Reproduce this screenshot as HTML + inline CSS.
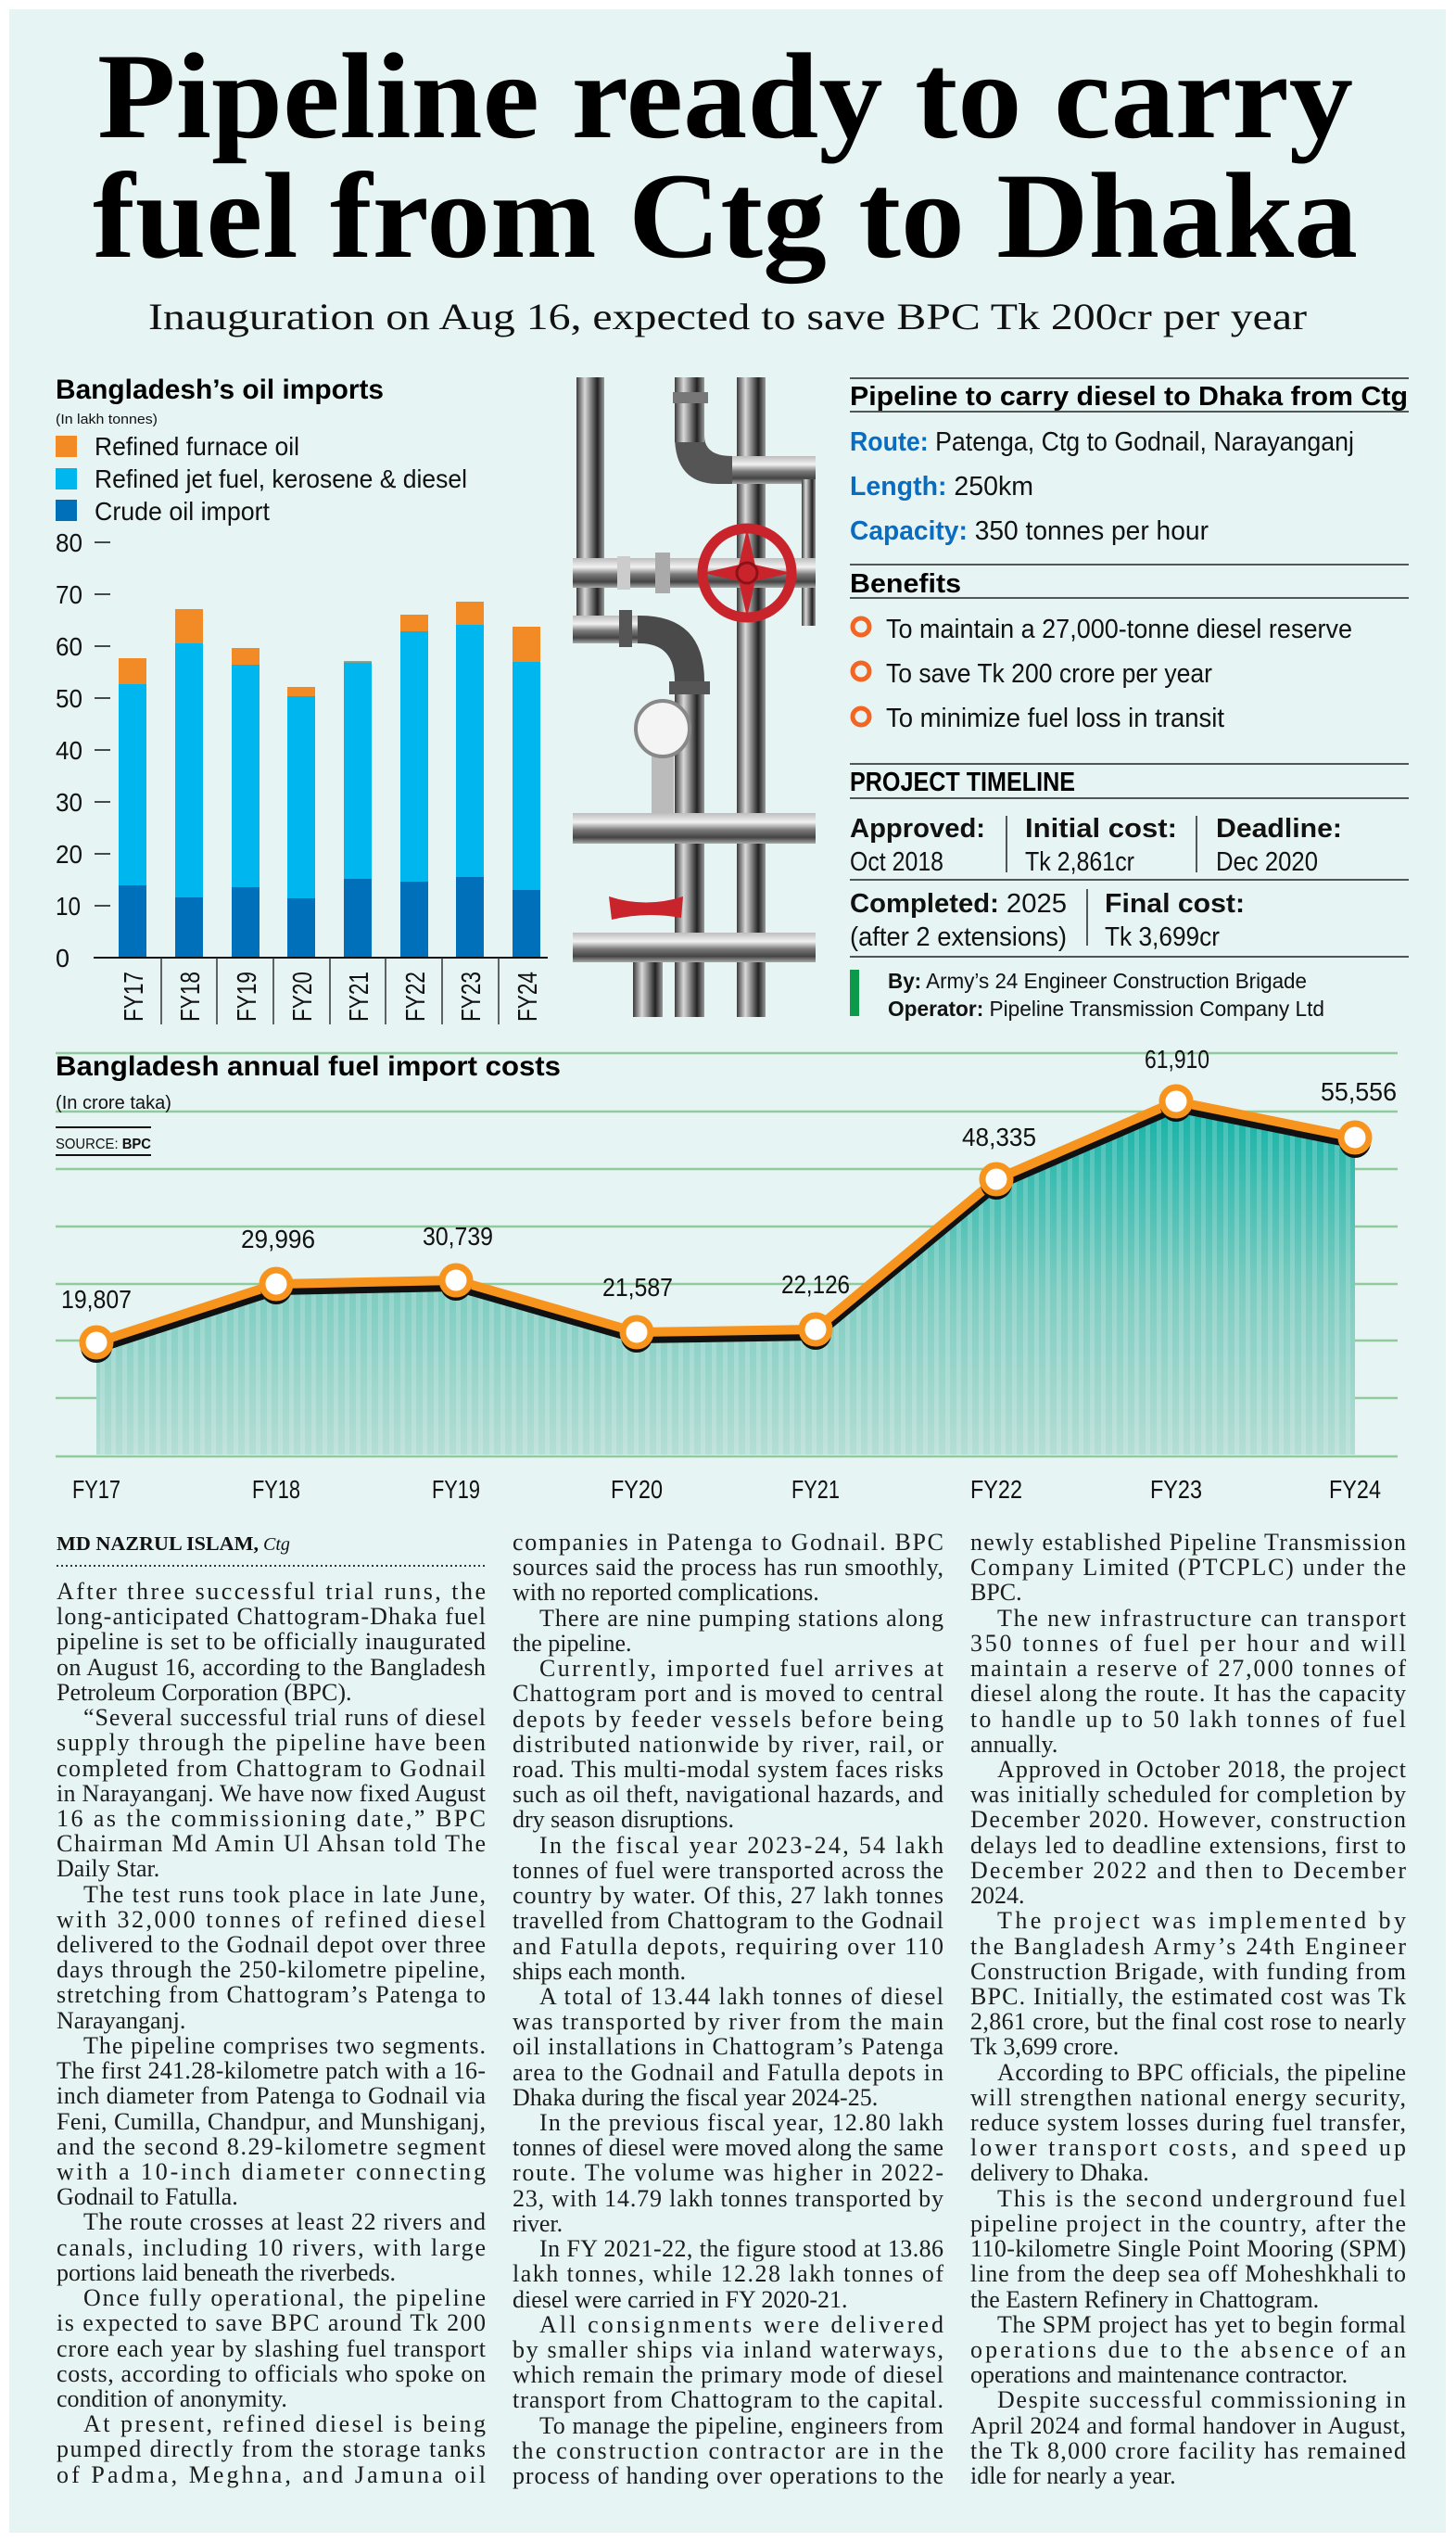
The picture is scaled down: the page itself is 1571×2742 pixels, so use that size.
<!DOCTYPE html>
<html><head><meta charset="utf-8"><style>
html,body{margin:0;padding:0;background:#fff}
svg{display:block}
.b{font-family:"Liberation Serif",serif;font-size:26px;fill:#1c1c1c}
.s{font-family:"Liberation Sans",sans-serif}
.sf{font-family:"Liberation Serif",serif}
</style></head><body>
<svg width="1571" height="2742" viewBox="0 0 1571 2742" xmlns="http://www.w3.org/2000/svg">
<defs>
<linearGradient id="vp" x1="0" x2="1" y1="0" y2="0"><stop offset="0" stop-color="#3a3a3a"/><stop offset=".3" stop-color="#d9d9d9"/><stop offset=".5" stop-color="#8a8a8a"/><stop offset=".75" stop-color="#222"/><stop offset="1" stop-color="#9a9a9a"/></linearGradient>
<linearGradient id="hp" x1="0" x2="0" y1="0" y2="1"><stop offset="0" stop-color="#bdbdbd"/><stop offset=".3" stop-color="#f2f2f2"/><stop offset=".55" stop-color="#7a7a7a"/><stop offset=".8" stop-color="#444"/><stop offset="1" stop-color="#aaa"/></linearGradient>
<linearGradient id="area" gradientUnits="userSpaceOnUse" x1="0" y1="1185" x2="0" y2="1571"><stop offset="0" stop-color="#0fb2a6"/><stop offset=".55" stop-color="#7fcdc2"/><stop offset="1" stop-color="#b4ded5"/></linearGradient>
<pattern id="stripe" width="12" height="10" patternUnits="userSpaceOnUse"><rect width="5" height="10" fill="#ffffff" opacity=".18"/></pattern>
</defs>
<rect width="1571" height="2742" fill="#fff"/>
<rect x="10" y="10" width="1550" height="2722" fill="#e6f4f3"/>

<!-- Headline -->
<text x="105" y="148" textLength="1355" lengthAdjust="spacingAndGlyphs" class="sf" font-size="132" font-weight="bold" fill="#000">Pipeline ready to carry</text>
<text x="100" y="277" textLength="1365" lengthAdjust="spacingAndGlyphs" class="sf" font-size="132" font-weight="bold" fill="#000">fuel from Ctg to Dhaka</text>
<text x="160" y="355" textLength="1250" lengthAdjust="spacingAndGlyphs" class="sf" font-size="40" fill="#111">Inauguration on Aug 16, expected to save BPC Tk 200cr per year</text>

<!-- Bar chart -->
<g class="s">
<text x="60" y="430" textLength="354" lengthAdjust="spacingAndGlyphs" font-size="30" font-weight="bold" fill="#000">Bangladesh’s oil imports</text>
<text x="60" y="457" textLength="110" lengthAdjust="spacingAndGlyphs" font-size="15" fill="#111">(In lakh tonnes)</text>
<rect x="60" y="470" width="23" height="23" fill="#f28a25"/>
<rect x="60" y="505" width="23" height="23" fill="#00b6ee"/>
<rect x="60" y="539" width="23" height="23" fill="#0070bb"/>
<text x="102" y="491" textLength="221" lengthAdjust="spacingAndGlyphs" font-size="28" fill="#111">Refined furnace oil</text>
<text x="102" y="526" textLength="402" lengthAdjust="spacingAndGlyphs" font-size="28" fill="#111">Refined jet fuel, kerosene &amp; diesel</text>
<text x="102" y="561" textLength="189" lengthAdjust="spacingAndGlyphs" font-size="28" fill="#111">Crude oil import</text>
<g font-size="28" fill="#111">
<text x="60" y="595" textLength="29" lengthAdjust="spacingAndGlyphs">80</text>
<text x="60" y="651" textLength="29" lengthAdjust="spacingAndGlyphs">70</text>
<text x="60" y="707" textLength="29" lengthAdjust="spacingAndGlyphs">60</text>
<text x="60" y="763" textLength="29" lengthAdjust="spacingAndGlyphs">50</text>
<text x="60" y="819" textLength="29" lengthAdjust="spacingAndGlyphs">40</text>
<text x="60" y="875" textLength="29" lengthAdjust="spacingAndGlyphs">30</text>
<text x="60" y="931" textLength="29" lengthAdjust="spacingAndGlyphs">20</text>
<text x="60" y="987" textLength="27" lengthAdjust="spacingAndGlyphs">10</text>
<text x="60" y="1043" textLength="15" lengthAdjust="spacingAndGlyphs">0</text>
</g>
<g stroke="#111" stroke-width="1.5">
<line x1="102" y1="585" x2="119" y2="585"/><line x1="102" y1="641" x2="119" y2="641"/><line x1="102" y1="697" x2="119" y2="697"/><line x1="102" y1="753" x2="119" y2="753"/><line x1="102" y1="809" x2="119" y2="809"/><line x1="102" y1="865" x2="119" y2="865"/><line x1="102" y1="921" x2="119" y2="921"/><line x1="102" y1="977" x2="119" y2="977"/>
</g>
<g>
<rect x="128" y="955" width="30" height="78" fill="#0070bb"/><rect x="128" y="738" width="30" height="217" fill="#00b6ee"/><rect x="128" y="710" width="30" height="28" fill="#f28a25"/>
<rect x="189" y="968" width="30" height="65" fill="#0070bb"/><rect x="189" y="694" width="30" height="274" fill="#00b6ee"/><rect x="189" y="657" width="30" height="37" fill="#f28a25"/>
<rect x="250" y="957" width="30" height="76" fill="#0070bb"/><rect x="250" y="717" width="30" height="240" fill="#00b6ee"/><rect x="250" y="699" width="30" height="18" fill="#f28a25"/>
<rect x="310" y="969" width="30" height="64" fill="#0070bb"/><rect x="310" y="751" width="30" height="218" fill="#00b6ee"/><rect x="310" y="741" width="30" height="10" fill="#f28a25"/>
<rect x="371" y="948" width="30" height="85" fill="#0070bb"/><rect x="371" y="714" width="30" height="234" fill="#00b6ee"/><rect x="371" y="713" width="30" height="1.5" fill="#f28a25"/>
<rect x="432" y="951" width="30" height="82" fill="#0070bb"/><rect x="432" y="681" width="30" height="270" fill="#00b6ee"/><rect x="432" y="663" width="30" height="18" fill="#f28a25"/>
<rect x="492" y="946" width="30" height="87" fill="#0070bb"/><rect x="492" y="674" width="30" height="272" fill="#00b6ee"/><rect x="492" y="649" width="30" height="25" fill="#f28a25"/>
<rect x="553" y="960" width="30" height="73" fill="#0070bb"/><rect x="553" y="714" width="30" height="246" fill="#00b6ee"/><rect x="553" y="676" width="30" height="38" fill="#f28a25"/>
</g>
<line x1="101" y1="1033" x2="591" y2="1033" stroke="#111" stroke-width="2"/>
<g stroke="#333" stroke-width="1.5">
<line x1="174" y1="1033" x2="174" y2="1105"/><line x1="234" y1="1033" x2="234" y2="1105"/><line x1="295" y1="1033" x2="295" y2="1105"/><line x1="356" y1="1033" x2="356" y2="1105"/><line x1="416" y1="1033" x2="416" y2="1105"/><line x1="477" y1="1033" x2="477" y2="1105"/><line x1="538" y1="1033" x2="538" y2="1105"/>
</g>
<g font-size="29" fill="#111">
<text transform="translate(154,1102) rotate(-90)" textLength="54" lengthAdjust="spacingAndGlyphs">FY17</text>
<text transform="translate(215,1102) rotate(-90)" textLength="54" lengthAdjust="spacingAndGlyphs">FY18</text>
<text transform="translate(276,1102) rotate(-90)" textLength="54" lengthAdjust="spacingAndGlyphs">FY19</text>
<text transform="translate(336,1102) rotate(-90)" textLength="54" lengthAdjust="spacingAndGlyphs">FY20</text>
<text transform="translate(397,1102) rotate(-90)" textLength="54" lengthAdjust="spacingAndGlyphs">FY21</text>
<text transform="translate(458,1102) rotate(-90)" textLength="54" lengthAdjust="spacingAndGlyphs">FY22</text>
<text transform="translate(518,1102) rotate(-90)" textLength="54" lengthAdjust="spacingAndGlyphs">FY23</text>
<text transform="translate(579,1102) rotate(-90)" textLength="54" lengthAdjust="spacingAndGlyphs">FY24</text>
</g>
</g>

<!-- Pipes illustration -->
<g>
<rect x="622" y="407" width="30" height="260" fill="url(#vp)"/>
<rect x="795" y="407" width="31" height="690" fill="url(#vp)"/>
<path d="M728 407 V470 Q728 522 775 522 H880 V492 H790 Q760 492 760 470 V407 Z" fill="#555"/>
<rect x="728" y="407" width="32" height="70" fill="url(#vp)"/>
<rect x="790" y="492" width="90" height="30" fill="url(#hp)"/>
<rect x="865" y="517" width="15" height="158" fill="url(#vp)"/>
<rect x="618" y="602" width="262" height="32" fill="url(#hp)"/>
<path d="M618 664 H690 Q760 664 760 735 V1097 H728 V735 Q728 694 690 694 H618 Z" fill="#4a4a4a"/>
<rect x="618" y="664" width="70" height="30" fill="url(#hp)"/>
<rect x="728" y="740" width="32" height="357" fill="url(#vp)"/>
<rect x="618" y="877" width="262" height="33" fill="url(#hp)"/>
<rect x="618" y="1006" width="262" height="32" fill="url(#hp)"/>
<rect x="683" y="1038" width="32" height="59" fill="url(#vp)"/>
<rect x="666" y="600" width="14" height="36" fill="#ccc"/><rect x="707" y="596" width="16" height="44" fill="#aaa"/>
<rect x="668" y="658" width="14" height="40" fill="#555"/><rect x="722" y="735" width="44" height="14" fill="#555"/>
<rect x="726" y="423" width="38" height="12" fill="#777"/>
<rect x="703" y="813" width="24" height="64" fill="#bbb"/>
<ellipse cx="715" cy="786" rx="29" ry="30" fill="#f4f4f4" stroke="#888" stroke-width="4"/>
<circle cx="806" cy="618" r="48" fill="none" stroke="#c9232b" stroke-width="11"/>
<path d="M806 570 L815 610 L806 618 L797 610 Z M806 666 L815 626 L806 618 L797 626 Z M758 618 L798 609 L806 618 L798 627 Z M854 618 L814 609 L806 618 L814 627 Z" fill="#c9232b"/>
<circle cx="806" cy="618" r="11" fill="#c9232b" stroke="#8a1218" stroke-width="3"/>
<path d="M657 967 Q697 980 737 967 L735 990 Q697 983 660 992 Z" fill="#c9232b"/>
</g>

<!-- Info panel -->
<g class="s">
<line x1="917" y1="408" x2="1520" y2="408" stroke="#222" stroke-width="1.5"/>
<text x="917" y="437" textLength="602" lengthAdjust="spacingAndGlyphs" font-size="29" font-weight="bold" fill="#000">Pipeline to carry diesel to Dhaka from Ctg</text>
<line x1="917" y1="444" x2="1520" y2="444" stroke="#222" stroke-width="1.5"/>
<text x="917" y="486" textLength="544" lengthAdjust="spacingAndGlyphs" font-size="29" fill="#111"><tspan font-weight="bold" fill="#0a6cc0">Route:</tspan> Patenga, Ctg to Godnail, Narayanganj</text>
<text x="917" y="534" textLength="198" lengthAdjust="spacingAndGlyphs" font-size="29" fill="#111"><tspan font-weight="bold" fill="#0a6cc0">Length:</tspan> 250km</text>
<text x="917" y="582" textLength="387" lengthAdjust="spacingAndGlyphs" font-size="29" fill="#111"><tspan font-weight="bold" fill="#0a6cc0">Capacity:</tspan> 350 tonnes per hour</text>
<line x1="917" y1="609" x2="1520" y2="609" stroke="#222" stroke-width="1.5"/>
<text x="917" y="639" textLength="120" lengthAdjust="spacingAndGlyphs" font-size="29" font-weight="bold" fill="#000">Benefits</text>
<line x1="917" y1="645" x2="1520" y2="645" stroke="#222" stroke-width="1.5"/>
<g fill="none" stroke="#f26522" stroke-width="5"><circle cx="929" cy="676" r="9"/><circle cx="929" cy="724" r="9"/><circle cx="929" cy="773" r="9"/></g>
<g font-size="29" fill="#111">
<text x="956" y="688" textLength="503" lengthAdjust="spacingAndGlyphs">To maintain a 27,000-tonne diesel reserve</text>
<text x="956" y="736" textLength="352" lengthAdjust="spacingAndGlyphs">To save Tk 200 crore per year</text>
<text x="956" y="784" textLength="365" lengthAdjust="spacingAndGlyphs">To minimize fuel loss in transit</text>
</g>
<line x1="917" y1="824" x2="1520" y2="824" stroke="#222" stroke-width="1.5"/>
<text x="917" y="853" textLength="243" lengthAdjust="spacingAndGlyphs" font-size="29" font-weight="bold" fill="#000">PROJECT TIMELINE</text>
<line x1="917" y1="861" x2="1520" y2="861" stroke="#222" stroke-width="1.5"/>
<g font-size="29" fill="#111">
<text x="917" y="903" textLength="146" lengthAdjust="spacingAndGlyphs" font-weight="bold">Approved:</text>
<text x="917" y="939" textLength="101" lengthAdjust="spacingAndGlyphs">Oct 2018</text>
<text x="1106" y="903" textLength="164" lengthAdjust="spacingAndGlyphs" font-weight="bold">Initial cost:</text>
<text x="1106" y="939" textLength="118" lengthAdjust="spacingAndGlyphs">Tk 2,861cr</text>
<text x="1312" y="903" textLength="136" lengthAdjust="spacingAndGlyphs" font-weight="bold">Deadline:</text>
<text x="1312" y="939" textLength="110" lengthAdjust="spacingAndGlyphs">Dec 2020</text>
<text x="917" y="984" textLength="234" lengthAdjust="spacingAndGlyphs"><tspan font-weight="bold">Completed:</tspan> 2025</text>
<text x="917" y="1020" textLength="234" lengthAdjust="spacingAndGlyphs">(after 2 extensions)</text>
<text x="1192" y="984" textLength="151" lengthAdjust="spacingAndGlyphs" font-weight="bold">Final cost:</text>
<text x="1192" y="1020" textLength="124" lengthAdjust="spacingAndGlyphs">Tk 3,699cr</text>
</g>
<g stroke="#222" stroke-width="1.5">
<line x1="1086" y1="880" x2="1086" y2="941"/><line x1="1291" y1="880" x2="1291" y2="941"/>
<line x1="917" y1="949" x2="1520" y2="949"/>
<line x1="1173" y1="959" x2="1173" y2="1020"/>
<line x1="917" y1="1032" x2="1520" y2="1032"/>
</g>
<rect x="917" y="1046" width="10" height="50" fill="#0a9a4a"/>
<text x="958" y="1066" textLength="452" lengthAdjust="spacingAndGlyphs" font-size="23" fill="#111"><tspan font-weight="bold">By:</tspan> Army’s 24 Engineer Construction Brigade</text>
<text x="958" y="1096" textLength="471" lengthAdjust="spacingAndGlyphs" font-size="23" fill="#111"><tspan font-weight="bold">Operator:</tspan> Pipeline Transmission Company Ltd</text>
</g>

<!-- Line chart -->
<g>
<g stroke="#8fcb9c" stroke-width="2.5">
<line x1="60" y1="1136" x2="1508" y2="1136"/><line x1="60" y1="1199" x2="1508" y2="1199"/><line x1="60" y1="1261" x2="1508" y2="1261"/><line x1="60" y1="1323" x2="1508" y2="1323"/><line x1="60" y1="1385" x2="1508" y2="1385"/><line x1="60" y1="1446" x2="1508" y2="1446"/><line x1="60" y1="1508" x2="1508" y2="1508"/><line x1="60" y1="1571" x2="1508" y2="1571"/>
</g>
<polygon points="104,1448 298,1385 492,1381 687,1437 880,1434 1075,1272 1269,1188 1462,1227 1462,1569 104,1569" fill="url(#area)"/>
<polygon points="104,1448 298,1385 492,1381 687,1437 880,1434 1075,1272 1269,1188 1462,1227 1462,1569 104,1569" fill="url(#stripe)"/>
<polyline points="104,1455 298,1392 492,1388 687,1444 880,1441 1075,1279 1269,1195 1462,1234" fill="none" stroke="#111" stroke-width="10" stroke-linejoin="round"/>
<polyline points="104,1448 298,1385 492,1381 687,1437 880,1434 1075,1272 1269,1188 1462,1227" fill="none" stroke="#f7941d" stroke-width="10" stroke-linejoin="round"/>
<g fill="#111">
<circle cx="104" cy="1453" r="17"/><circle cx="298" cy="1390" r="17"/><circle cx="492" cy="1386" r="17"/><circle cx="687" cy="1442" r="17"/><circle cx="880" cy="1439" r="17"/><circle cx="1075" cy="1277" r="17"/><circle cx="1269" cy="1193" r="17"/><circle cx="1462" cy="1232" r="17"/>
</g>
<g fill="#fff" stroke="#f7941d" stroke-width="7">
<circle cx="104" cy="1448" r="15"/><circle cx="298" cy="1385" r="15"/><circle cx="492" cy="1381" r="15"/><circle cx="687" cy="1437" r="15"/><circle cx="880" cy="1434" r="15"/><circle cx="1075" cy="1272" r="15"/><circle cx="1269" cy="1188" r="15"/><circle cx="1462" cy="1227" r="15"/>
</g>
<g class="s" font-size="28" fill="#111" text-anchor="middle">
<text x="104" y="1411" textLength="76" lengthAdjust="spacingAndGlyphs">19,807</text>
<text x="300" y="1346" textLength="80" lengthAdjust="spacingAndGlyphs">29,996</text>
<text x="494" y="1343" textLength="76" lengthAdjust="spacingAndGlyphs">30,739</text>
<text x="688" y="1398" textLength="76" lengthAdjust="spacingAndGlyphs">21,587</text>
<text x="880" y="1395" textLength="74" lengthAdjust="spacingAndGlyphs">22,126</text>
<text x="1078" y="1236" textLength="80" lengthAdjust="spacingAndGlyphs">48,335</text>
<text x="1270" y="1152" textLength="70" lengthAdjust="spacingAndGlyphs">61,910</text>
<text x="1466" y="1187" textLength="82" lengthAdjust="spacingAndGlyphs">55,556</text>
</g>
<g class="s" font-size="28" fill="#111" text-anchor="middle">
<text x="104" y="1616" textLength="52" lengthAdjust="spacingAndGlyphs">FY17</text>
<text x="298" y="1616" textLength="52" lengthAdjust="spacingAndGlyphs">FY18</text>
<text x="492" y="1616" textLength="52" lengthAdjust="spacingAndGlyphs">FY19</text>
<text x="687" y="1616" textLength="56" lengthAdjust="spacingAndGlyphs">FY20</text>
<text x="880" y="1616" textLength="52" lengthAdjust="spacingAndGlyphs">FY21</text>
<text x="1075" y="1616" textLength="56" lengthAdjust="spacingAndGlyphs">FY22</text>
<text x="1269" y="1616" textLength="56" lengthAdjust="spacingAndGlyphs">FY23</text>
<text x="1462" y="1616" textLength="56" lengthAdjust="spacingAndGlyphs">FY24</text>
</g>
<g class="s">
<text x="60" y="1160" textLength="545" lengthAdjust="spacingAndGlyphs" font-size="30" font-weight="bold" fill="#000">Bangladesh annual fuel import costs</text>
<text x="60" y="1196" textLength="125" lengthAdjust="spacingAndGlyphs" font-size="20" fill="#111">(In crore taka)</text>
<line x1="60" y1="1216" x2="163" y2="1216" stroke="#111" stroke-width="2"/>
<text x="60" y="1239" textLength="103" lengthAdjust="spacingAndGlyphs" font-size="16" fill="#111">SOURCE: <tspan font-weight="bold">BPC</tspan></text>
<line x1="60" y1="1246" x2="163" y2="1246" stroke="#111" stroke-width="2"/>
</g>
</g>

<!-- Body text -->
<text x="61" y="1672" class="sf" font-size="21" font-weight="bold" fill="#111" textLength="218" lengthAdjust="spacingAndGlyphs">MD NAZRUL ISLAM,</text>
<text x="284" y="1672" class="sf" font-size="20" font-style="italic" fill="#111">Ctg</text>
<line x1="61" y1="1689" x2="524" y2="1689" stroke="#333" stroke-width="2" stroke-dasharray="2,3"/>

<g class="b">
<text x="61" y="1725" textLength="463" lengthAdjust="spacing">After three successful trial runs, the</text>
<text x="61" y="1752" textLength="463" lengthAdjust="spacing">long-anticipated Chattogram-Dhaka fuel</text>
<text x="61" y="1779" textLength="463" lengthAdjust="spacing">pipeline is set to be officially inaugurated</text>
<text x="61" y="1807" textLength="463" lengthAdjust="spacing">on August 16, according to the Bangladesh</text>
<text x="61" y="1834">Petroleum Corporation (BPC).</text>
<text x="90" y="1861" textLength="434" lengthAdjust="spacing">“Several successful trial runs of diesel</text>
<text x="61" y="1888" textLength="463" lengthAdjust="spacing">supply through the pipeline have been</text>
<text x="61" y="1916" textLength="463" lengthAdjust="spacing">completed from Chattogram to Godnail</text>
<text x="61" y="1943" textLength="463" lengthAdjust="spacing">in Narayanganj. We have now fixed August</text>
<text x="61" y="1970" textLength="463" lengthAdjust="spacing">16 as the commissioning date,” BPC</text>
<text x="61" y="1997" textLength="463" lengthAdjust="spacing">Chairman Md Amin Ul Ahsan told The</text>
<text x="61" y="2024">Daily Star.</text>
<text x="90" y="2052" textLength="434" lengthAdjust="spacing">The test runs took place in late June,</text>
<text x="61" y="2079" textLength="463" lengthAdjust="spacing">with 32,000 tonnes of refined diesel</text>
<text x="61" y="2106" textLength="463" lengthAdjust="spacing">delivered to the Godnail depot over three</text>
<text x="61" y="2133" textLength="463" lengthAdjust="spacing">days through the 250-kilometre pipeline,</text>
<text x="61" y="2160" textLength="463" lengthAdjust="spacing">stretching from Chattogram’s Patenga to</text>
<text x="61" y="2188">Narayanganj.</text>
<text x="90" y="2215" textLength="434" lengthAdjust="spacing">The pipeline comprises two segments.</text>
<text x="61" y="2242" textLength="463" lengthAdjust="spacing">The first 241.28-kilometre patch with a 16-</text>
<text x="61" y="2269" textLength="463" lengthAdjust="spacing">inch diameter from Patenga to Godnail via</text>
<text x="61" y="2297" textLength="463" lengthAdjust="spacing">Feni, Cumilla, Chandpur, and Munshiganj,</text>
<text x="61" y="2324" textLength="463" lengthAdjust="spacing">and the second 8.29-kilometre segment</text>
<text x="61" y="2351" textLength="463" lengthAdjust="spacing">with a 10-inch diameter connecting</text>
<text x="61" y="2378">Godnail to Fatulla.</text>
<text x="90" y="2405" textLength="434" lengthAdjust="spacing">The route crosses at least 22 rivers and</text>
<text x="61" y="2433" textLength="463" lengthAdjust="spacing">canals, including 10 rivers, with large</text>
<text x="61" y="2460">portions laid beneath the riverbeds.</text>
<text x="90" y="2487" textLength="434" lengthAdjust="spacing">Once fully operational, the pipeline</text>
<text x="61" y="2514" textLength="463" lengthAdjust="spacing">is expected to save BPC around Tk 200</text>
<text x="61" y="2542" textLength="463" lengthAdjust="spacing">crore each year by slashing fuel transport</text>
<text x="61" y="2569" textLength="463" lengthAdjust="spacing">costs, according to officials who spoke on</text>
<text x="61" y="2596">condition of anonymity.</text>
<text x="90" y="2623" textLength="434" lengthAdjust="spacing">At present, refined diesel is being</text>
<text x="61" y="2650" textLength="463" lengthAdjust="spacing">pumped directly from the storage tanks</text>
<text x="61" y="2678" textLength="463" lengthAdjust="spacing">of Padma, Meghna, and Jamuna oil</text>

<text x="553" y="1672" textLength="465" lengthAdjust="spacing">companies in Patenga to Godnail. BPC</text>
<text x="553" y="1699" textLength="465" lengthAdjust="spacing">sources said the process has run smoothly,</text>
<text x="553" y="1726">with no reported complications.</text>
<text x="582" y="1754" textLength="436" lengthAdjust="spacing">There are nine pumping stations along</text>
<text x="553" y="1781">the pipeline.</text>
<text x="582" y="1808" textLength="436" lengthAdjust="spacing">Currently, imported fuel arrives at</text>
<text x="553" y="1835" textLength="465" lengthAdjust="spacing">Chattogram port and is moved to central</text>
<text x="553" y="1863" textLength="465" lengthAdjust="spacing">depots by feeder vessels before being</text>
<text x="553" y="1890" textLength="465" lengthAdjust="spacing">distributed nationwide by river, rail, or</text>
<text x="553" y="1917" textLength="465" lengthAdjust="spacing">road. This multi-modal system faces risks</text>
<text x="553" y="1944" textLength="465" lengthAdjust="spacing">such as oil theft, navigational hazards, and</text>
<text x="553" y="1971">dry season disruptions.</text>
<text x="582" y="1999" textLength="436" lengthAdjust="spacing">In the fiscal year 2023-24, 54 lakh</text>
<text x="553" y="2026" textLength="465" lengthAdjust="spacing">tonnes of fuel were transported across the</text>
<text x="553" y="2053" textLength="465" lengthAdjust="spacing">country by water. Of this, 27 lakh tonnes</text>
<text x="553" y="2080" textLength="465" lengthAdjust="spacing">travelled from Chattogram to the Godnail</text>
<text x="553" y="2108" textLength="465" lengthAdjust="spacing">and Fatulla depots, requiring over 110</text>
<text x="553" y="2135">ships each month.</text>
<text x="582" y="2162" textLength="436" lengthAdjust="spacing">A total of 13.44 lakh tonnes of diesel</text>
<text x="553" y="2189" textLength="465" lengthAdjust="spacing">was transported by river from the main</text>
<text x="553" y="2216" textLength="465" lengthAdjust="spacing">oil installations in Chattogram’s Patenga</text>
<text x="553" y="2244" textLength="465" lengthAdjust="spacing">area to the Godnail and Fatulla depots in</text>
<text x="553" y="2271">Dhaka during the fiscal year 2024-25.</text>
<text x="582" y="2298" textLength="436" lengthAdjust="spacing">In the previous fiscal year, 12.80 lakh</text>
<text x="553" y="2325" textLength="465" lengthAdjust="spacing">tonnes of diesel were moved along the same</text>
<text x="553" y="2352" textLength="465" lengthAdjust="spacing">route. The volume was higher in 2022-</text>
<text x="553" y="2380" textLength="465" lengthAdjust="spacing">23, with 14.79 lakh tonnes transported by</text>
<text x="553" y="2407">river.</text>
<text x="582" y="2434" textLength="436" lengthAdjust="spacing">In FY 2021-22, the figure stood at 13.86</text>
<text x="553" y="2461" textLength="465" lengthAdjust="spacing">lakh tonnes, while 12.28 lakh tonnes of</text>
<text x="553" y="2489">diesel were carried in FY 2020-21.</text>
<text x="582" y="2516" textLength="436" lengthAdjust="spacing">All consignments were delivered</text>
<text x="553" y="2543" textLength="465" lengthAdjust="spacing">by smaller ships via inland waterways,</text>
<text x="553" y="2570" textLength="465" lengthAdjust="spacing">which remain the primary mode of diesel</text>
<text x="553" y="2597" textLength="465" lengthAdjust="spacing">transport from Chattogram to the capital.</text>
<text x="582" y="2625" textLength="436" lengthAdjust="spacing">To manage the pipeline, engineers from</text>
<text x="553" y="2652" textLength="465" lengthAdjust="spacing">the construction contractor are in the</text>
<text x="553" y="2679" textLength="465" lengthAdjust="spacing">process of handing over operations to the</text>

<text x="1047" y="1672" textLength="470" lengthAdjust="spacing">newly established Pipeline Transmission</text>
<text x="1047" y="1699" textLength="470" lengthAdjust="spacing">Company Limited (PTCPLC) under the</text>
<text x="1047" y="1726">BPC.</text>
<text x="1076" y="1754" textLength="441" lengthAdjust="spacing">The new infrastructure can transport</text>
<text x="1047" y="1781" textLength="470" lengthAdjust="spacing">350 tonnes of fuel per hour and will</text>
<text x="1047" y="1808" textLength="470" lengthAdjust="spacing">maintain a reserve of 27,000 tonnes of</text>
<text x="1047" y="1835" textLength="470" lengthAdjust="spacing">diesel along the route. It has the capacity</text>
<text x="1047" y="1863" textLength="470" lengthAdjust="spacing">to handle up to 50 lakh tonnes of fuel</text>
<text x="1047" y="1890">annually.</text>
<text x="1076" y="1917" textLength="441" lengthAdjust="spacing">Approved in October 2018, the project</text>
<text x="1047" y="1944" textLength="470" lengthAdjust="spacing">was initially scheduled for completion by</text>
<text x="1047" y="1971" textLength="470" lengthAdjust="spacing">December 2020. However, construction</text>
<text x="1047" y="1999" textLength="470" lengthAdjust="spacing">delays led to deadline extensions, first to</text>
<text x="1047" y="2026" textLength="470" lengthAdjust="spacing">December 2022 and then to December</text>
<text x="1047" y="2053">2024.</text>
<text x="1076" y="2080" textLength="441" lengthAdjust="spacing">The project was implemented by</text>
<text x="1047" y="2108" textLength="470" lengthAdjust="spacing">the Bangladesh Army’s 24th Engineer</text>
<text x="1047" y="2135" textLength="470" lengthAdjust="spacing">Construction Brigade, with funding from</text>
<text x="1047" y="2162" textLength="470" lengthAdjust="spacing">BPC. Initially, the estimated cost was Tk</text>
<text x="1047" y="2189" textLength="470" lengthAdjust="spacing">2,861 crore, but the final cost rose to nearly</text>
<text x="1047" y="2216">Tk 3,699 crore.</text>
<text x="1076" y="2244" textLength="441" lengthAdjust="spacing">According to BPC officials, the pipeline</text>
<text x="1047" y="2271" textLength="470" lengthAdjust="spacing">will strengthen national energy security,</text>
<text x="1047" y="2298" textLength="470" lengthAdjust="spacing">reduce system losses during fuel transfer,</text>
<text x="1047" y="2325" textLength="470" lengthAdjust="spacing">lower transport costs, and speed up</text>
<text x="1047" y="2352">delivery to Dhaka.</text>
<text x="1076" y="2380" textLength="441" lengthAdjust="spacing">This is the second underground fuel</text>
<text x="1047" y="2407" textLength="470" lengthAdjust="spacing">pipeline project in the country, after the</text>
<text x="1047" y="2434" textLength="470" lengthAdjust="spacing">110-kilometre Single Point Mooring (SPM)</text>
<text x="1047" y="2461" textLength="470" lengthAdjust="spacing">line from the deep sea off Moheshkhali to</text>
<text x="1047" y="2489">the Eastern Refinery in Chattogram.</text>
<text x="1076" y="2516" textLength="441" lengthAdjust="spacing">The SPM project has yet to begin formal</text>
<text x="1047" y="2543" textLength="470" lengthAdjust="spacing">operations due to the absence of an</text>
<text x="1047" y="2570">operations and maintenance contractor.</text>
<text x="1076" y="2597" textLength="441" lengthAdjust="spacing">Despite successful commissioning in</text>
<text x="1047" y="2625" textLength="470" lengthAdjust="spacing">April 2024 and formal handover in August,</text>
<text x="1047" y="2652" textLength="470" lengthAdjust="spacing">the Tk 8,000 crore facility has remained</text>
<text x="1047" y="2679">idle for nearly a year.</text>
</g>
</svg>
</body></html>
